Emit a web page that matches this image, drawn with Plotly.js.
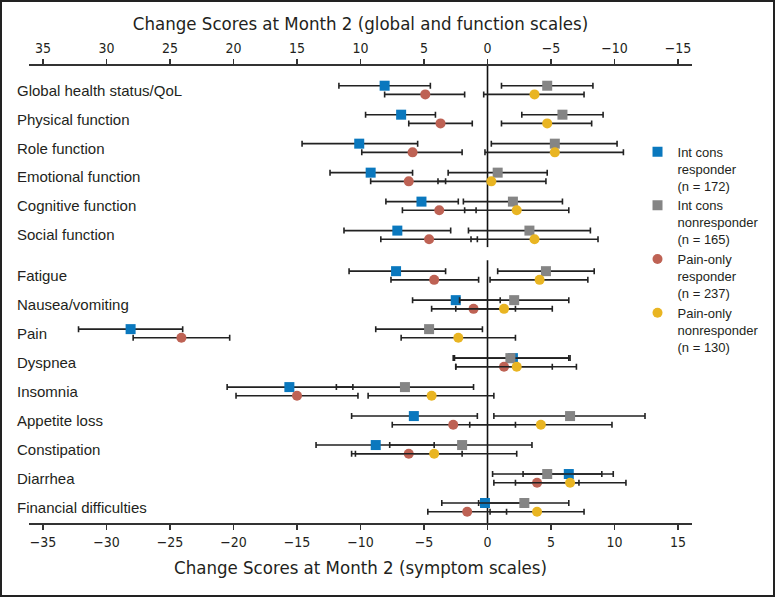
<!DOCTYPE html>
<html>
<head>
<meta charset="utf-8">
<script src="https://cdn.plot.ly/plotly-3.0.1.min.js"></script>
<style>
  body { margin: 0; background: #fff; }
  #chart { width: 775px; height: 597px; }
  #frame { position: absolute; left: 0; top: 0; width: 775px; height: 597px; box-sizing: border-box; border: 2px solid #222; pointer-events: none; }
</style>
</head>
<body>
<div id="chart"></div>
<div id="frame"></div>
<script>
// ---- Categories ----
const functionScales = ["Global health status/QoL", "Physical function", "Role function",
  "Emotional function", "Cognitive function", "Social function"];
const symptomScales = ["Fatigue", "Nausea/vomiting", "Pain", "Dyspnea", "Insomnia",
  "Appetite loss", "Constipation", "Diarrhea", "Financial difficulties"];

// ---- Global & function scales (top axis) : mean, lower CI, upper CI ----
const icResp_fn      = [8.1, 6.8, 10.1, 9.2, 5.2, 7.1];
const icResp_fn_lo   = [4.5, 4.1, 5.5, 5.9, 2.3, 2.9];
const icResp_fn_hi   = [11.7, 9.6, 14.6, 12.4, 8.0, 11.3];
const icNon_fn       = [-4.7, -5.9, -5.3, -0.8, -2.0, -3.3];
const icNon_fn_lo    = [-8.3, -9.1, -10.2, -4.7, -5.9, -8.1];
const icNon_fn_hi    = [-1.1, -2.7, -0.3, 3.1, 1.9, 1.5];
const poResp_fn      = [4.9, 3.7, 5.9, 6.2, 3.8, 4.6];
const poResp_fn_lo   = [1.8, 1.2, 2.0, 3.3, 0.9, 0.8];
const poResp_fn_hi   = [8.1, 6.2, 9.9, 9.2, 6.7, 8.4];
const poNon_fn       = [-3.7, -4.7, -5.3, -0.3, -2.3, -3.7];
const poNon_fn_lo    = [-7.6, -8.2, -10.7, -4.6, -6.4, -8.7];
const poNon_fn_hi    = [0.3, -1.1, 0.2, 3.9, 1.8, 1.3];

// ---- Symptom scales (bottom axis) ----
const icResp_sym     = [-7.2, -2.5, -28.1, 2.0, -15.6, -5.8, -8.8, 6.4, -0.2];
const icResp_sym_lo  = [-10.9, -5.9, -32.2, -2.6, -20.5, -10.7, -13.5, 2.8, -3.6];
const icResp_sym_hi  = [-3.3, 1.0, -24.0, 6.5, -10.6, -0.8, -4.2, 9.9, 3.2];
const icNon_sym      = [4.6, 2.1, -4.6, 1.8, -6.5, 6.5, -2.0, 4.7, 2.9];
const icNon_sym_lo   = [0.8, -2.2, -8.8, -2.7, -11.9, 0.5, -7.7, 0.4, -0.7];
const icNon_sym_hi   = [8.4, 6.4, -0.4, 6.4, -1.1, 12.4, 3.5, 9.0, 6.4];
const poResp_sym     = [-4.2, -1.1, -24.1, 1.3, -15.0, -2.7, -6.2, 3.9, -1.6];
const poResp_sym_lo  = [-7.6, -4.4, -27.9, -2.5, -19.8, -7.5, -10.4, 0.5, -4.7];
const poResp_sym_hi  = [-0.7, 2.2, -20.3, 5.1, -10.2, 2.2, -2.0, 7.2, 1.5];
const poNon_sym      = [4.1, 1.3, -2.3, 2.3, -4.4, 4.2, -4.2, 6.5, 3.9];
const poNon_sym_lo   = [0.2, -2.5, -6.8, -2.5, -9.4, -1.4, -10.7, 2.2, 0.2];
const poNon_sym_hi   = [7.9, 5.1, 2.2, 7.0, 0.5, 9.8, 2.3, 10.9, 7.6];

// ---- Groups / legend ----
const groupNames = ["Int cons<br>responder<br>(n = 172)", "Int cons<br>nonresponder<br>(n = 165)",
  "Pain-only<br>responder<br>(n = 237)", "Pain-only<br>nonresponder<br>(n = 130)"];
const groupColors = ["#0A78BE", "#858585", "#BE6254", "#E9B522"];
const groupSymbols = ["square", "square", "circle", "circle"];

// ---- Row positions (function block, small gap, symptom block) ----
const sectionGap = 0.4;
const fnPos = functionScales.map((_, i) => i);
const symPos = symptomScales.map((_, j) => functionScales.length + sectionGap + j);
const rowOffset = [-0.15, -0.15, 0.15, 0.15]; // squares on upper line, circles below

const fnData = [
  [icResp_fn, icResp_fn_lo, icResp_fn_hi],
  [icNon_fn, icNon_fn_lo, icNon_fn_hi],
  [poResp_fn, poResp_fn_lo, poResp_fn_hi],
  [poNon_fn, poNon_fn_lo, poNon_fn_hi]
];
const symData = [
  [icResp_sym, icResp_sym_lo, icResp_sym_hi],
  [icNon_sym, icNon_sym_lo, icNon_sym_hi],
  [poResp_sym, poResp_sym_lo, poResp_sym_hi],
  [poNon_sym, poNon_sym_lo, poNon_sym_hi]
];

const labelFont = "Liberation Sans, Arial, Helvetica, sans-serif";
const narrowFont = "Liberation Sans Narrow, Arial Narrow, DejaVu Sans Condensed, sans-serif";
const ink = "#231F20";

function makeTrace(g, d, pos, xaxis, showlegend) {
  const [m, lo, hi] = d;
  return {
    type: "scatter", mode: "markers",
    x: m, y: pos.map(p => p + rowOffset[g]),
    xaxis: xaxis, yaxis: "y",
    name: groupNames[g], legendgroup: "g" + g, showlegend: showlegend,
    marker: { symbol: groupSymbols[g], color: groupColors[g], size: 10, line: { width: 0 } },
    error_x: {
      type: "data", symmetric: false,
      array: m.map((v, i) => hi[i] - v),
      arrayminus: m.map((v, i) => v - lo[i]),
      color: "#222", thickness: 1.6, width: 3
    },
    hoverinfo: "skip"
  };
}

const traces = [];
for (let g = 0; g < 4; g++) traces.push(makeTrace(g, fnData[g], fnPos, "x2", true));
for (let g = 0; g < 4; g++) traces.push(makeTrace(g, symData[g], symPos, "x", false));

const yRange = [14.94, -0.83];
const gapTop = functionScales.length - 1 + 0.42;
const gapBot = functionScales.length + sectionGap - 0.53;

const annotations = functionScales.concat(symptomScales).map((name, k) => ({
  text: name, xref: "paper", yref: "y", x: -0.021, xanchor: "left",
  y: k < functionScales.length ? fnPos[k] : symPos[k - functionScales.length],
  yanchor: "middle", showarrow: false,
  font: { family: labelFont, size: 15, color: ink }
}));

const axisCommon = {
  showgrid: false, zeroline: false, showline: true, linecolor: "#333", linewidth: 2,
  ticks: "outside", ticklen: 5, tickwidth: 1.5, tickcolor: "#333",
  tickmode: "linear", tick0: 0, dtick: 5,
  tickfont: { family: narrowFont, size: 14, color: ink }
};

const layout = {
  width: 775, height: 597,
  margin: { l: 29, r: 83, t: 66, b: 74, autoexpand: false },
  paper_bgcolor: "#fff", plot_bgcolor: "#fff",
  showlegend: true,
  legend: {
    xref: "container", yref: "container",
    x: 0.8226, xanchor: "left", y: 0.771, yanchor: "top",
    bgcolor: "rgba(0,0,0,0)", borderwidth: 0,
    font: { family: labelFont, size: 13, color: ink },
    valign: "top", tracegroupgap: 0, itemwidth: 30
  },
  xaxis: Object.assign({}, axisCommon, {
    range: [-36.1, 16.1], side: "bottom",
    title: { text: "Change Scores at Month 2 (symptom scales)", font: { family: narrowFont, size: 18.5, color: ink }, standoff: 12 }
  }),
  xaxis2: Object.assign({}, axisCommon, {
    range: [36.1, -16.1], side: "top", overlaying: "x",
    title: { text: "Change Scores at Month 2 (global and function scales)", font: { family: narrowFont, size: 18.5, color: ink }, standoff: 5 }
  }),
  yaxis: { range: yRange, visible: false, showgrid: false, zeroline: false },
  shapes: [
    { type: "line", xref: "x", yref: "paper", x0: 0, x1: 0, y0: 1, y1: (yRange[0] - gapTop) / (yRange[0] - yRange[1]), line: { color: "#111", width: 1.6 }, layer: "below" },
    { type: "line", xref: "x", yref: "paper", x0: 0, x1: 0, y0: (yRange[0] - gapBot) / (yRange[0] - yRange[1]), y1: 0, line: { color: "#111", width: 1.6 }, layer: "below" }
  ],
  annotations: annotations
};

Plotly.newPlot("chart", traces, layout, { displayModeBar: false, staticPlot: true });
</script>
</body>
</html>
